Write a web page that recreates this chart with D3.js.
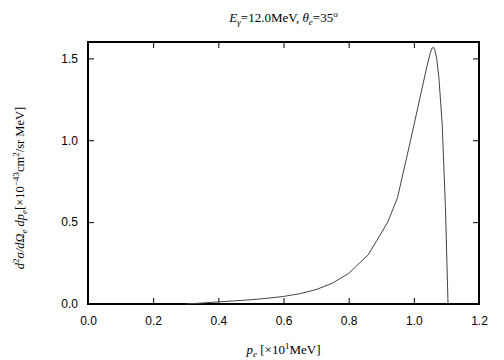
<html>
<body style="margin:0;background:#fff">
<svg id="plot"></svg>
<script src="https://cdnjs.cloudflare.com/ajax/libs/d3/7.8.5/d3.min.js"></script>
<script>
// momentum p_e [x10 MeV] and cross section values
var momentum = [0.30,0.35,0.40,0.45,0.50,0.55,0.60,0.65,0.70,0.75,0.80,0.86,0.92,0.95,0.99,1.02,1.04,1.05,1.056,1.06,1.064,1.07,1.077,1.087,1.097,1.105];
var crossSection = [0,0.006,0.013,0.019,0.026,0.035,0.046,0.063,0.088,0.127,0.187,0.30,0.50,0.65,1.0,1.27,1.45,1.53,1.562,1.568,1.555,1.50,1.38,1.10,0.59,0];
var xTicks = [0,0.2,0.4,0.6,0.8,1.0,1.2];
var yTicks = [0,0.5,1.0,1.5];

var screen = {width:504, height:360};
var margins = {top:42, bottom:56, left:88, right:25};
var graph = {
    width:screen.width-margins.left-margins.right,
    height:screen.height-margins.top-margins.bottom
};

var svg = d3.select("#plot")
    .attr("width",screen.width)
    .attr("height",screen.height);

var xScale = d3.scaleLinear().domain([0,1.2]).range([0,graph.width]);
var yScale = d3.scaleLinear().domain([0,1.6]).range([graph.height,0]);

var g = svg.append("g")
    .attr("transform","translate("+margins.left+","+margins.top+")");

var tickFont = "'Liberation Sans', Arial, sans-serif";

// ticks point inward on all four sides
var styleAxis = function(sel)
{
    sel.select(".domain").remove();
    sel.selectAll(".tick line").attr("stroke","#000").attr("stroke-width",1);
    sel.selectAll(".tick text").attr("font-family",tickFont).attr("font-size",12).attr("fill","#000");
};

g.append("g")
    .attr("transform","translate(0,"+graph.height+")")
    .call(d3.axisBottom(xScale).tickValues(xTicks).tickFormat(d3.format(".1f"))
          .tickSizeInner(-6).tickSizeOuter(0).tickPadding(12))
    .call(styleAxis);

g.append("g")
    .call(d3.axisTop(xScale).tickValues(xTicks).tickFormat("")
          .tickSizeInner(-6).tickSizeOuter(0))
    .call(styleAxis);

g.append("g")
    .call(d3.axisLeft(yScale).tickValues(yTicks).tickFormat(d3.format(".1f"))
          .tickSizeInner(-6).tickSizeOuter(0).tickPadding(10))
    .call(styleAxis);

g.append("g")
    .attr("transform","translate("+graph.width+",0)")
    .call(d3.axisRight(yScale).tickValues(yTicks).tickFormat("")
          .tickSizeInner(-6).tickSizeOuter(0))
    .call(styleAxis);

// frame
g.append("rect")
    .attr("x",0).attr("y",0)
    .attr("width",graph.width).attr("height",graph.height)
    .attr("fill","none").attr("stroke","#000").attr("stroke-width",2);

// curve
var points = momentum.map(function(p,i){ return [p,crossSection[i]]; });
g.append("path")
    .datum(points)
    .attr("fill","none")
    .attr("stroke","#444")
    .attr("stroke-width",1)
    .attr("d",d3.line()
        .x(function(d){ return xScale(d[0]); })
        .y(function(d){ return yScale(d[1]); }));

var serif = "'Liberation Serif', 'Times New Roman', serif";

// title
var title = svg.append("text")
    .attr("x",margins.left+graph.width/2)
    .attr("y",22)
    .attr("text-anchor","middle")
    .attr("font-family",serif)
    .attr("font-size",13);
title.append("tspan").attr("font-style","italic").text("E");
title.append("tspan").attr("font-style","italic").attr("font-size",9).attr("dy",3).text("γ");
title.append("tspan").attr("dy",-3).text("=12.0MeV,  ");
title.append("tspan").attr("font-style","italic").text("θ");
title.append("tspan").attr("font-style","italic").attr("font-size",9).attr("dy",3).text("e");
title.append("tspan").attr("dy",-3).text("=35");
title.append("tspan").attr("font-size",9).attr("dy",-5).text("o");

// x label
var xl = svg.append("text")
    .attr("x",margins.left+graph.width/2)
    .attr("y",354)
    .attr("text-anchor","middle")
    .attr("font-family",serif)
    .attr("font-size",13);
xl.append("tspan").attr("font-style","italic").text("p");
xl.append("tspan").attr("font-style","italic").attr("font-size",9).attr("dy",3).text("e");
xl.append("tspan").attr("dy",-3).text(" [×10");
xl.append("tspan").attr("font-size",9).attr("dy",-5).text("1");
xl.append("tspan").attr("dy",5).text("MeV]");

// y label
var yl = svg.append("text")
    .attr("transform","translate(24,188) rotate(-90)")
    .attr("text-anchor","middle")
    .attr("font-family",serif)
    .attr("font-size",12.5);
yl.append("tspan").attr("font-style","italic").text("d");
yl.append("tspan").attr("font-size",9).attr("dy",-5).text("2");
yl.append("tspan").attr("font-style","italic").attr("dy",5).text("σ/dΩ");
yl.append("tspan").attr("font-style","italic").attr("font-size",9).attr("dy",3).text("e");
yl.append("tspan").attr("font-style","italic").attr("dy",-3).text(" dp");
yl.append("tspan").attr("font-style","italic").attr("font-size",9).attr("dy",3).text("e");
yl.append("tspan").attr("dy",-3).text("[×10");
yl.append("tspan").attr("font-size",9).attr("dy",-5).text("−43");
yl.append("tspan").attr("dy",5).text("cm");
yl.append("tspan").attr("font-size",9).attr("dy",-5).text("2");
yl.append("tspan").attr("dy",5).text("/sr MeV]");
</script>
</body>
</html>
